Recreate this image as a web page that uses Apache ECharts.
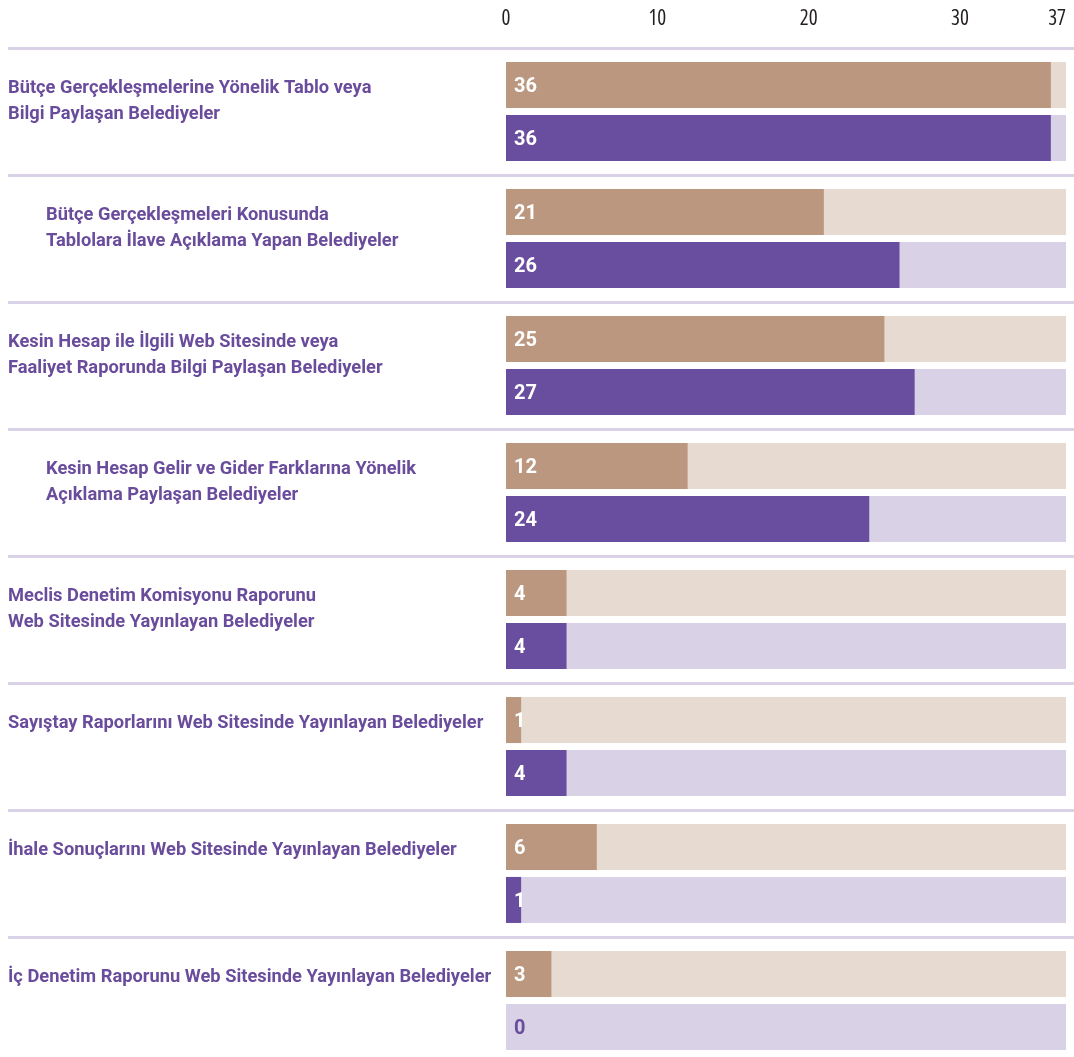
<!DOCTYPE html>
<html>
<head>
<meta charset="utf-8">
<script src="https://cdn.jsdelivr.net/npm/echarts@6/dist/echarts.min.js"></script>
<style>
  html, body { margin: 0; padding: 0; background: #fff; }
  #chart { width: 1074px; height: 1057px; }
</style>
</head>
<body>
<div id="chart"></div>
<script>
// Belediyelerin bütçe / kesin hesap bilgi paylaşımı - iki seri karşılaştırması

const categories = [
    'Bütçe Gerçekleşmelerine Yönelik Tablo veya\nBilgi Paylaşan Belediyeler',
    'Bütçe Gerçekleşmeleri Konusunda\nTablolara İlave Açıklama Yapan Belediyeler',
    'Kesin Hesap ile İlgili Web Sitesinde veya\nFaaliyet Raporunda Bilgi Paylaşan Belediyeler',
    'Kesin Hesap Gelir ve Gider Farklarına Yönelik\nAçıklama Paylaşan Belediyeler',
    'Meclis Denetim Komisyonu Raporunu\nWeb Sitesinde Yayınlayan Belediyeler',
    'Sayıştay Raporlarını Web Sitesinde Yayınlayan Belediyeler',
    'İhale Sonuçlarını Web Sitesinde Yayınlayan Belediyeler',
    'İç Denetim Raporunu Web Sitesinde Yayınlayan Belediyeler'
];
const altBaslik = [false, true, false, true, false, false, false, false];
const seri1 = [36, 21, 25, 12, 4, 1, 6, 3];
const seri2 = [36, 26, 27, 24, 4, 4, 1, 0];
const eksenMax = 37;
const eksenAdim = 10;

const TAN = '#bb9780';
const TAN_BG = '#e6dad1';
const MOR = '#694d9e';
const MOR_BG = '#d9d1e6';
const YAZI_MOR = '#6a4c9c';

const dom = document.getElementById('chart');
const myChart = echarts.init(dom);

const etiketStil = {
    fontFamily: 'Roboto, sans-serif',
    fontWeight: 'bold',
    fontSize: 18.3,
    color: YAZI_MOR,
    lineHeight: 26
};

function seriVerisi(arr, renk) {
    return arr.map(v => ({
        value: v,
        label: { color: v === 0 ? renk : '#fff' }
    }));
}

const barOrtak = {
    type: 'bar',
    xAxisIndex: 1,
    yAxisIndex: 1,
    barWidth: 46,
    barGap: '15%',
    showBackground: true,
    label: {
        show: true,
        position: 'insideLeft',
        distance: 8,
        offset: [0, 2],
        fontFamily: 'Roboto, sans-serif',
        fontWeight: 'bold',
        fontSize: 20
    }
};

const option = {
    animation: false,
    grid: [
        { left: 8, right: 0, top: 48, height: 1016, outerBoundsMode: 'none' },
        { left: 506, right: 8, top: 48, height: 1016, outerBoundsMode: 'none' }
    ],
    xAxis: [
        { type: 'value', gridIndex: 0, show: false, min: 0, max: eksenMax },
        {
            type: 'value',
            gridIndex: 1,
            position: 'top',
            min: 0,
            max: eksenMax,
            interval: eksenAdim,
            axisLine: { show: false },
            axisTick: { show: false },
            splitLine: { show: false },
            axisLabel: {
                margin: 18,
                fontFamily: '"Open Sans", sans-serif',
                fontStyle: 'condensed',   // Open Sans değişken genişlik
                fontSize: 21,
                color: '#231f20',
                alignMaxLabel: 'right'
            }
        }
    ],
    yAxis: [
        {
            type: 'category',
            gridIndex: 0,
            inverse: true,
            data: categories,
            axisLine: { show: false },
            axisTick: { show: false },
            axisLabel: { show: false },
            splitLine: { show: true, lineStyle: { color: MOR_BG, width: 3 } }
        },
        {
            type: 'category',
            gridIndex: 1,
            inverse: true,
            data: categories,
            axisLine: { show: false },
            axisTick: { show: false },
            splitLine: { show: false },
            axisLabel: {
                interval: 0,
                align: 'left',
                verticalAlign: 'middle',
                margin: 498,
                padding: [6, 0, 0, 0],
                formatter: (value, index) => {
                    const lines = value.split('\n');
                    while (lines.length < 3) lines.push(' ');
                    const s = altBaslik[index] ? 'i' : 'n';
                    return lines.map(l => '{' + s + '|' + l + '}').join('\n');
                },
                rich: {
                    n: etiketStil,
                    i: Object.assign({}, etiketStil, { padding: [0, 0, 0, 38] })
                }
            }
        }
    ],
    series: [
        Object.assign({}, barOrtak, {
            name: 'Seri 1',
            data: seriVerisi(seri1, TAN),
            itemStyle: { color: TAN },
            backgroundStyle: { color: TAN_BG }
        }),
        Object.assign({}, barOrtak, {
            name: 'Seri 2',
            data: seriVerisi(seri2, MOR),
            itemStyle: { color: MOR },
            backgroundStyle: { color: MOR_BG }
        })
    ]
};

myChart.setOption(option);
</script>
</body>
</html>
